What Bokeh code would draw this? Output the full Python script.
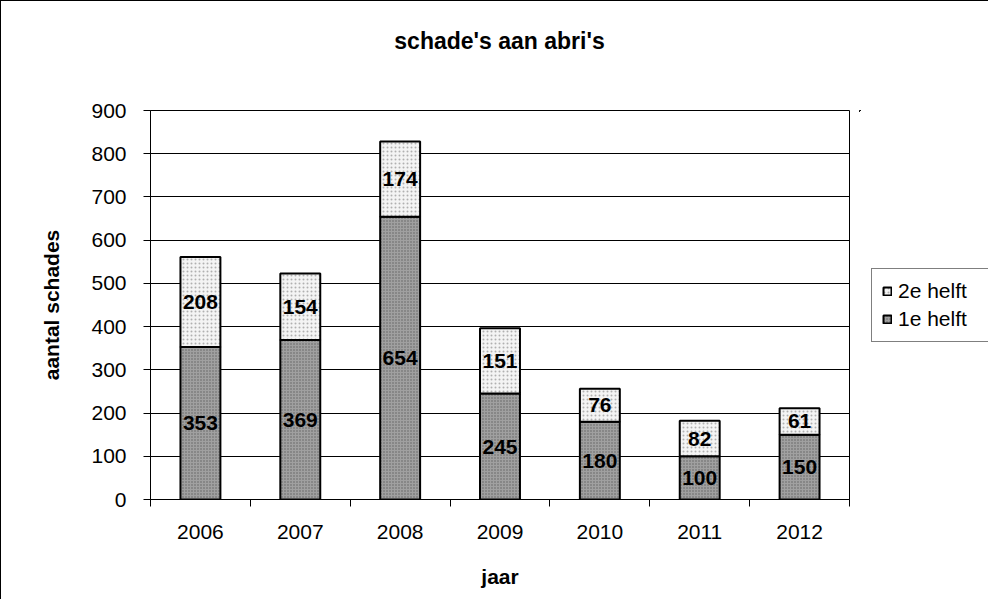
from bokeh.plotting import figure
from bokeh.models import (ColumnDataSource, Range1d, FixedTicker, Legend, LegendItem,
                          LabelSet, Div)
from bokeh.layouts import row, column
from bokeh.core.properties import value
from bokeh.embed import file_html
from bokeh.resources import INLINE

title_text = "schade's aan abri's"
years = ["2006", "2007", "2008", "2009", "2010", "2011", "2012"]
first_half = [353, 369, 654, 245, 180, 100, 150]
second_half = [208, 154, 174, 151, 76, 82, 61]
series_names = ["1e helft", "2e helft"]

xpos = [i + 0.5 for i in range(len(years))]
bottom2 = first_half
top2 = [a + b for a, b in zip(first_half, second_half)]
mid1 = [a / 2 for a in first_half]
mid2 = [a + b / 2 for a, b in zip(first_half, second_half)]

src = ColumnDataSource(dict(x=xpos, f=first_half, s=second_half, b2=bottom2, t2=top2,
                            m1=mid1, m2=mid2,
                            l1=[str(v) for v in first_half], l2=[str(v) for v in second_half]))

FONT = "Liberation Sans"
FS = "21px"
STYLE1 = dict(fill_color="#a0a0a0", line_color="black", line_width=2,
              hatch_pattern="dot", hatch_color="#606060", hatch_scale=3, hatch_weight=1)
STYLE2 = dict(fill_color="#f4f4f4", line_color="black", line_width=2,
              hatch_pattern="dot", hatch_color="#b0b0b0", hatch_scale=4, hatch_weight=1)

TITLE_H = 80
head = Div(text=title_text, width=699, height=TITLE_H, margin=(0, 0, 0, 149),
           styles={"font-family": FONT, "font-size": "23px", "font-weight": "bold",
                   "text-align": "center", "line-height": f"{TITLE_H}px", "color": "black"})

p = figure(width=858, height=598 - TITLE_H, output_backend="svg", toolbar_location=None,
           x_range=Range1d(0, len(years)), y_range=Range1d(0, 900),
           min_border_left=149, min_border_right=10, min_border_top=109 - TITLE_H,
           min_border_bottom=100)
p.title.text = ""
p.title.standoff = 0

p.outline_line_color = "black"
p.outline_line_width = 1
p.background_fill_color = "white"
p.border_fill_color = "white"

r1 = p.vbar(x="x", bottom=0, top="f", width=0.4, source=src, **STYLE1)
r2 = p.vbar(x="x", bottom="b2", top="t2", width=0.4, source=src, **STYLE2)

for col, ycol in (("l1", "m1"), ("l2", "m2")):
    ls = LabelSet(x="x", y=ycol, text=col, source=src, text_align="center",
                  text_baseline="middle", text_font=value(FONT), text_font_size=value(FS),
                  text_font_style="bold", text_color="black")
    p.add_layout(ls)

# grid
p.xgrid.grid_line_color = None
p.ygrid.grid_line_color = "black"
p.ygrid.grid_line_width = 1
p.yaxis.ticker = FixedTicker(ticks=list(range(0, 901, 100)))
p.xaxis.ticker = FixedTicker(ticks=xpos, minor_ticks=list(range(len(years) + 1)))
p.xaxis.major_label_overrides = {x: y for x, y in zip(xpos, years)}

for ax in (p.xaxis, p.yaxis):
    ax.axis_line_color = "black"
    ax.axis_line_width = 1
    ax.major_label_text_font = FONT
    ax.major_label_text_font_size = FS
    ax.major_label_text_color = "black"
    ax.axis_label_text_font = FONT
    ax.axis_label_text_font_size = FS
    ax.axis_label_text_font_style = "bold"
    ax.axis_label_text_color = "black"

p.xaxis.major_tick_out = 0
p.xaxis.major_tick_in = 0
p.xaxis.minor_tick_out = 7
p.xaxis.minor_tick_in = 0
p.xaxis.minor_tick_line_color = "black"
p.xaxis.major_label_standoff = 18
p.xaxis.axis_label = "jaar"
p.xaxis.axis_label_standoff = 23

p.yaxis.major_tick_out = 7
p.yaxis.major_tick_in = 0
p.yaxis.minor_tick_line_color = None
p.yaxis.major_label_standoff = 17
p.yaxis.axis_label = "aantal schades"
p.yaxis.axis_label_standoff = 25

# legend panel (separate small figure so the legend is not clipped);
# its renderers reuse the data but the ranges keep them out of view
q = figure(width=129, height=598 - TITLE_H, output_backend="svg", toolbar_location=None,
           x_axis_location=None, y_axis_location=None,
           x_range=Range1d(1000, 1001), y_range=Range1d(-2000, -1999),
           min_border=0)
q.title.text = ""
q.title.standoff = 0
q.outline_line_color = None
q.xgrid.grid_line_color = None
q.ygrid.grid_line_color = None
q.border_fill_color = "white"
q.background_fill_color = "white"
e1 = q.vbar(x="x", bottom=0, top="f", width=0.4, source=src, **STYLE1)
e2 = q.vbar(x="x", bottom="b2", top="t2", width=0.4, source=src, **STYLE2)

legend = Legend(items=[LegendItem(label=series_names[1], renderers=[e2]),
                       LegendItem(label=series_names[0], renderers=[e1])],
                location=(12, 157))
legend.label_text_font = FONT
legend.label_text_font_size = FS
legend.label_text_color = "black"
legend.border_line_color = "black"
legend.border_line_width = 1
legend.glyph_width = 10
legend.glyph_height = 10
legend.label_standoff = 6
legend.label_width = 80
legend.spacing = 4
legend.padding = 10
legend.margin = 0
q.add_layout(legend)

layout = column(head, row(p, q, spacing=0), spacing=0)
layout.styles = {"border-left": "1px solid black", "border-top": "1px solid black"}
open("out.html", "w").write(file_html(layout, INLINE))
